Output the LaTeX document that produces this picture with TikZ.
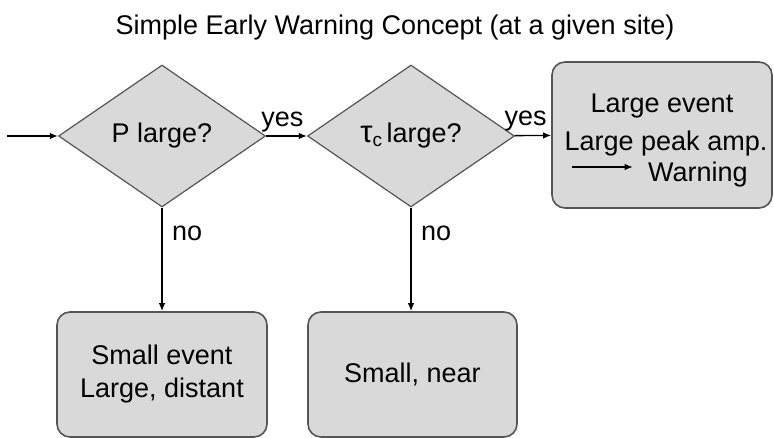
\documentclass[tikz,border=0pt]{standalone}
\usepackage{fontspec}
\setmainfont{Liberation Sans}
\usetikzlibrary{shapes.geometric,arrows.meta}
\definecolor{boxgray}{HTML}{D9D9D9}
\definecolor{edgegray}{HTML}{555555}

\begin{document}
\begin{tikzpicture}[x=1pt,y=-1pt]
\useasboundingbox (0,0) rectangle (774,438);
\tikzstyle{every node}=[font=\fontsize{27}{33}\selectfont];
\tikzstyle{decision}=[draw=edgegray,fill=boxgray,line width=1.2pt,shape=diamond,minimum width=207pt,minimum height=142pt,inner sep=0pt];
\tikzstyle{result}=[draw=edgegray,fill=boxgray,line width=1.6pt,shape=rectangle,rounded corners=13pt];
\tikzstyle{link}=[line width=1.4pt,-{Latex[length=8pt,width=6.5pt]}];
\node[anchor=base] (title) at (395,35) {Simple Early Warning Concept (at a given site)};
\coordinate (start) at (7,136);
\node[decision] (q1) at (162,136) {P large?};
\node[decision] (q2) at (411,136) {{\fontsize{31}{33}\selectfont τ}\raisebox{-4pt}{\fontsize{19}{20}\selectfont c}\,large?};
\node[result,minimum width=220pt,minimum height=146pt] (big) at (662,135) {};
\node[anchor=base] (l1) at (662,113) {Large event};
\node[anchor=base] (l2) at (666,151) {Large peak amp.};
\node[anchor=base] (warn) at (698,182) {Warning};
\coordinate (wtail) at (572,167);
\node[result,minimum width=210pt,minimum height=125pt,align=center] (far) at (162,374.5) {Small event\\Large, distant};
\node[result,minimum width=209pt,minimum height=125pt] (near) at (412.5,374.5) {Small, near};
\draw [link] (start) -- (q1);
\draw [link] (q1) -- (q2) node[pos=.4,above] (yes1) {yes};
\draw [link] (q2) -- (big) node[pos=.3,above] (yes2) {yes};
\draw [link] (q1) -- (far) node[pos=.25,right,xshift=6pt] (no1) {no};
\draw [link] (q2) -- (q2 |- near.north) node[pos=.25,right,xshift=6pt] (no2) {no};
\draw [link,line width=1.2pt,shorten >=12pt] (wtail) -- (wtail -| warn.west);
\end{tikzpicture}
\end{document}
